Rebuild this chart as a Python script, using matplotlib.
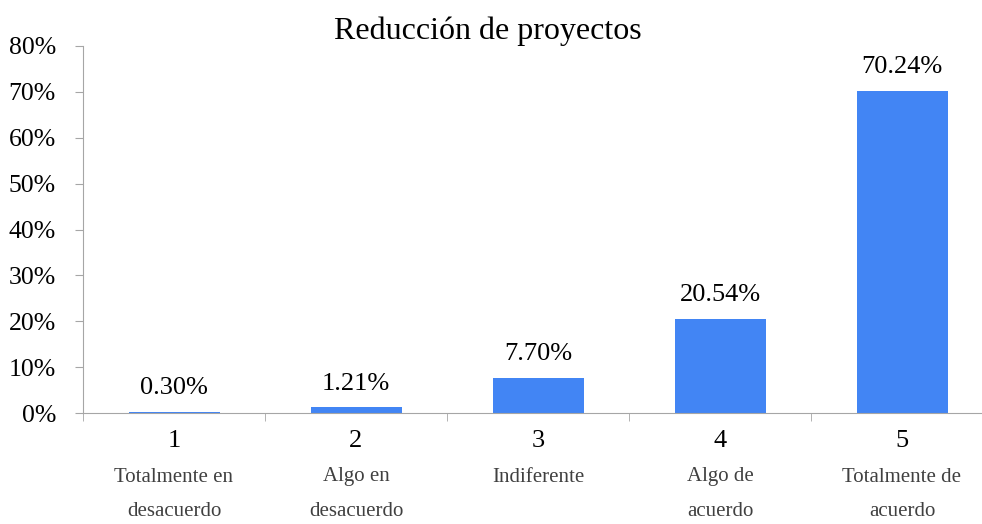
import matplotlib
matplotlib.use("Agg")
import matplotlib.pyplot as plt
import numpy as np
from matplotlib.transforms import blended_transform_factory

categories = ["1", "2", "3", "4", "5"]
sublabels = ["Totalmente en\ndesacuerdo", "Algo en\ndesacuerdo", "Indiferente",
             "Algo de\nacuerdo", "Totalmente de\nacuerdo"]
values = [0.30, 1.21, 7.70, 20.54, 70.24]
value_labels = ["0.30%", "1.21%", "7.70%", "20.54%", "70.24%"]
yticks = [0, 10, 20, 30, 40, 50, 60, 70, 80]
ytick_labels = ["0%", "10%", "20%", "30%", "40%", "50%", "60%", "70%", "80%"]
title = "Reducción de proyectos"

plt.rcParams['font.family'] = ['Liberation Serif', 'DejaVu Serif']

W, H = 982, 524
fig = plt.figure(figsize=(W / 100, H / 100), dpi=100)
ax = fig.add_axes([83 / W, (H - 413) / H, 910 / W, 367 / H])

x = np.arange(len(categories))
ax.bar(x, values, width=0.5, color="#4285F4", zorder=2)
ax.set_xlim(-0.5, len(categories) - 0.5)
ax.set_ylim(0, 80)

spine_col = "#A6A6A6"
for s in ["top", "right"]:
    ax.spines[s].set_visible(False)
ax.spines["left"].set_color(spine_col)
ax.spines["bottom"].set_color(spine_col)

ax.set_yticks(yticks)
ax.set_yticklabels(ytick_labels, fontsize=18.5)
ax.tick_params(axis="y", length=6, color=spine_col, pad=13.5)

ax.set_xticks(x)
ax.set_xticklabels(categories, fontsize=19)
ax.tick_params(axis="x", which="major", length=0, pad=12)
ax.set_xticks(np.arange(len(categories) + 1) - 0.5, minor=True)
ax.tick_params(axis="x", which="minor", length=6, color=spine_col)

trans = blended_transform_factory(ax.transData, fig.transFigure)
for xi, sl in zip(x, sublabels):
    lines = sl.split("\n")
    for j, ln in enumerate(lines):
        ax.text(xi, (H - 477 - 35 * j) / H, ln, transform=trans, ha="center",
                va="center", fontsize=15, color="#404040")

for xi, v, lab in zip(x, values, value_labels):
    ax.annotate(lab, (xi, v), xytext=(0, 9), textcoords="offset points",
                ha="center", va="bottom", fontsize=19)

fig.text(488 / W, (H - 31) / H, title, ha="center", va="center", fontsize=23)

fig.savefig("out.png", dpi=100)
